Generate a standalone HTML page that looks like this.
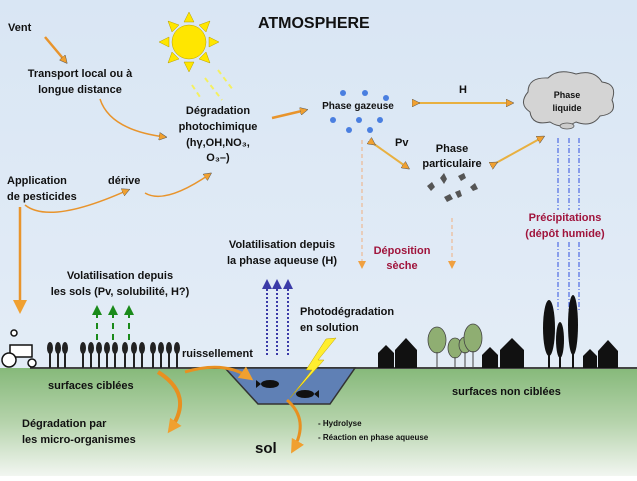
<!DOCTYPE html>
<html><head><meta charset="utf-8"><style>
html,body{margin:0;padding:0;}
body{width:637px;height:476px;overflow:hidden;font-family:"Liberation Sans",sans-serif;}
svg text{font-family:"Liberation Sans",sans-serif;font-weight:bold;fill:#111;}
</style></head><body>
<svg width="637" height="476" viewBox="0 0 637 476" xmlns="http://www.w3.org/2000/svg">
<defs>
<linearGradient id="sky" x1="0" y1="0" x2="0" y2="1"><stop offset="0" stop-color="#d9e6f4"/><stop offset="1" stop-color="#e6eef7"/></linearGradient>
<linearGradient id="gr" x1="0" y1="0" x2="0" y2="1"><stop offset="0" stop-color="#86b97a"/><stop offset="0.5" stop-color="#b5d3ab"/><stop offset="1" stop-color="#f2f6f1"/></linearGradient>
<marker id="ao" markerWidth="8" markerHeight="8" refX="6" refY="4" orient="auto" markerUnits="userSpaceOnUse"><path d="M0,0 L8,4 L0,8 z" fill="#f0a030" stroke="#555" stroke-width="0.5"/></marker>
<marker id="ob" markerWidth="14" markerHeight="14" refX="10" refY="7" orient="auto" markerUnits="userSpaceOnUse"><path d="M0,0 L14,7 L0,14 z" fill="#f0a030"/></marker>
<marker id="ag" markerWidth="10" markerHeight="10" refX="5" refY="5" orient="auto" markerUnits="userSpaceOnUse"><path d="M0,0 L10,5 L0,10 z" fill="#1a8a1a"/></marker>
<marker id="ab" markerWidth="10" markerHeight="10" refX="5" refY="5" orient="auto" markerUnits="userSpaceOnUse"><path d="M0,0 L10,5 L0,10 z" fill="#3b3ba8"/></marker>
<marker id="od" markerWidth="8" markerHeight="8" refX="4" refY="4" orient="auto" markerUnits="userSpaceOnUse"><path d="M0,0 L8,4 L0,8 z" fill="#f0a040"/></marker>
</defs>
<rect width="637" height="476" fill="url(#sky)"/>
<rect y="368" width="637" height="108" fill="url(#gr)"/>
<line x1="30" y1="368" x2="637" y2="368" stroke="#444" stroke-width="2"/>
<!-- pond -->
<path d="M225,368 L355,368 L330,404 L258,404 z" fill="#5f80b5" stroke="#333" stroke-width="1.5"/>
<ellipse cx="270" cy="384" rx="9" ry="4" fill="#111"/><path d="M261,384 l-5,-4 v8z" fill="#111"/>
<ellipse cx="305" cy="394" rx="9" ry="4" fill="#111"/><path d="M314,394 l5,-4 v8z" fill="#111"/>
<!-- sun -->
<g fill="#ffe600" stroke="#b8a000" stroke-width="0.5">
<circle cx="189" cy="42" r="17"/>
<path d="M189,12 l-5,10 h10z M189,72 l-5,-10 h10z M159,42 l10,-5 v10z M219,42 l-10,-5 v10z M168,21 l4,11 7,-7z M210,21 l-4,11 -7,-7z M168,63 l4,-11 7,7z M210,63 l-4,-11 -7,7z"/>
</g>
<g stroke="#f4f060" stroke-width="2" stroke-dasharray="5,4"><line x1="192" y1="85" x2="202" y2="100"/><line x1="205" y1="78" x2="222" y2="100"/><line x1="218" y1="70" x2="233" y2="90"/></g>
<!-- cloud -->
<path d="M530,112 q-12,-8 -2,-20 q0,-15 20,-14 q10,-10 28,-4 q18,-5 26,8 q16,2 10,18 q6,14 -12,16 q-8,12 -24,6 q-14,8 -26,0 q-18,4 -20,-10z" fill="#d4d4d4" stroke="#555" stroke-width="1"/>
<ellipse cx="567" cy="126" rx="7" ry="3" fill="#ccc" stroke="#555" stroke-width="0.8"/>
<text x="258" y="28" font-size="16">ATMOSPHERE</text>
<g font-size="11">
<text x="8" y="31">Vent</text>
<text x="80" y="77" text-anchor="middle">Transport local ou à</text>
<text x="80" y="93" text-anchor="middle">longue distance</text>
<text x="218" y="114" text-anchor="middle">Dégradation</text>
<text x="218" y="130" text-anchor="middle">photochimique</text>
<text x="218" y="146" text-anchor="middle">(hγ,OH,NO₃,</text>
<text x="218" y="161" text-anchor="middle">O₃–)</text>
<text x="7" y="184">Application</text>
<text x="7" y="200">de pesticides</text>
<text x="108" y="184">dérive</text>
<text x="358" y="109" text-anchor="middle" font-size="10">Phase gazeuse</text>
<text x="463" y="93" text-anchor="middle">H</text>
<text x="567" y="98" text-anchor="middle" font-size="9">Phase</text>
<text x="567" y="111" text-anchor="middle" font-size="9">liquide</text>
<text x="395" y="146">Pv</text>
<text x="452" y="152" text-anchor="middle">Phase</text>
<text x="452" y="167" text-anchor="middle">particulaire</text>
<text x="565" y="221" text-anchor="middle" style="fill:#a0143c">Précipitations</text>
<text x="565" y="237" text-anchor="middle" style="fill:#a0143c">(dépôt humide)</text>
<text x="402" y="254" text-anchor="middle" style="fill:#a0143c">Déposition</text>
<text x="402" y="269" text-anchor="middle" style="fill:#a0143c">sèche</text>
<text x="282" y="248" text-anchor="middle">Volatilisation depuis</text>
<text x="282" y="264" text-anchor="middle">la phase aqueuse (H)</text>
<text x="120" y="279" text-anchor="middle">Volatilisation depuis</text>
<text x="120" y="295" text-anchor="middle">les sols (Pv, solubilité, H?)</text>
<text x="300" y="315">Photodégradation</text>
<text x="300" y="331">en solution</text>
<text x="182" y="357">ruissellement</text>
<text x="48" y="389">surfaces ciblées</text>
<text x="452" y="395">surfaces non ciblées</text>
<text x="22" y="427">Dégradation par</text>
<text x="22" y="443">les micro-organismes</text>
<text x="318" y="426" font-size="8">- Hydrolyse</text>
<text x="318" y="440" font-size="8">- Réaction en phase aqueuse</text>
<text x="255" y="453" font-size="15">sol</text>
</g>
<!-- arrows top -->
<g stroke="#e8942c" stroke-width="2.5" fill="none">
<line x1="45" y1="37" x2="66" y2="62" marker-end="url(#ao)"/>
<path d="M100,99 Q110,130 165,137" marker-end="url(#ao)" stroke-width="1.5"/>
<line x1="272" y1="118" x2="306" y2="110" marker-end="url(#ao)"/>
<path d="M25,205 Q50,225 128,190" stroke-width="1.5" marker-end="url(#ao)"/>
<path d="M145,193 Q165,205 210,174" stroke-width="1.5" marker-end="url(#ao)"/>
<line x1="20" y1="207" x2="20" y2="310" marker-end="url(#ob)" stroke-width="2.5"/>
<line x1="418" y1="103" x2="512" y2="103" stroke="#e8b040" stroke-width="2" marker-start="url(#ao)" marker-end="url(#ao)"/>
<line x1="374" y1="144" x2="408" y2="168" stroke="#e8b040" stroke-width="2" marker-start="url(#ao)" marker-end="url(#ao)"/>
<line x1="496" y1="163" x2="543" y2="137" stroke="#e8b040" stroke-width="2" marker-start="url(#ao)" marker-end="url(#ao)"/>
</g>
<!-- gas dots -->
<g fill="#4a7fe0"><circle cx="343" cy="93" r="3"/><circle cx="365" cy="93" r="3"/><circle cx="386" cy="98" r="3"/><circle cx="333" cy="120" r="3"/><circle cx="359" cy="120" r="3"/><circle cx="380" cy="120" r="3"/><circle cx="349" cy="130" r="3"/><circle cx="370" cy="130" r="3"/></g>
<!-- particles -->
<g fill="#555"><path d="M427,186 l5,-4 3,5 -4,4z"/><path d="M440,178 l4,-5 3,6 -3,5z"/><path d="M458,176 l6,-3 2,5 -5,3z"/><path d="M470,187 l5,-4 3,6 -5,2z"/><path d="M444,197 l6,-3 3,5 -6,3z"/><path d="M455,192 l5,-2 2,6 -4,2z"/></g>
<!-- deposition dashed -->
<g stroke="#f0b080" stroke-width="1" stroke-dasharray="4,3"><line x1="362" y1="140" x2="362" y2="265" marker-end="url(#od)"/><line x1="452" y1="218" x2="452" y2="265" marker-end="url(#od)"/></g>
<g stroke="#3050e0" stroke-width="1" stroke-dasharray="5,2,1,2"><line x1="558" y1="138" x2="558" y2="210"/><line x1="569" y1="138" x2="569" y2="210"/><line x1="579" y1="138" x2="579" y2="210"/><line x1="558" y1="242" x2="558" y2="312"/><line x1="569" y1="242" x2="569" y2="312"/><line x1="579" y1="242" x2="579" y2="312"/></g>
<!-- volatilisation arrows -->
<g stroke="#1a8a1a" stroke-width="2" stroke-dasharray="6,5"><line x1="97" y1="340" x2="97" y2="310" marker-end="url(#ag)"/><line x1="113" y1="340" x2="113" y2="310" marker-end="url(#ag)"/><line x1="129" y1="340" x2="129" y2="310" marker-end="url(#ag)"/></g>
<g stroke="#3b3ba8" stroke-width="2" stroke-dasharray="2,2"><line x1="267" y1="355" x2="267" y2="284" marker-end="url(#ab)"/><line x1="277" y1="355" x2="277" y2="284" marker-end="url(#ab)"/><line x1="288" y1="355" x2="288" y2="284" marker-end="url(#ab)"/></g>
<!-- lightning -->
<path d="M336,338 L318,360 L324,360 L290,398 L312,370 L306,370 L326,339z" fill="#ffee30" stroke="#c0a000" stroke-width="0.5"/>
<!-- crops -->
<g fill="#222">
<path d="M49,345h2v23h-2z M57,345h2v23h-2z M64,345h2v23h-2z M82,345h2v23h-2z M90,345h2v23h-2z M98,345h2v23h-2z M106,345h2v23h-2z M114,345h2v23h-2z M124,345h2v23h-2z M133,345h2v23h-2z M141,345h2v23h-2z M152,345h2v23h-2z M160,345h2v23h-2z M168,345h2v23h-2z M176,345h2v23h-2z"/>
<g><ellipse cx="50" cy="348" rx="3" ry="6"/><ellipse cx="58" cy="348" rx="3" ry="6"/><ellipse cx="65" cy="348" rx="3" ry="6"/><ellipse cx="83" cy="348" rx="3" ry="6"/><ellipse cx="91" cy="348" rx="3" ry="6"/><ellipse cx="99" cy="348" rx="3" ry="6"/><ellipse cx="107" cy="348" rx="3" ry="6"/><ellipse cx="115" cy="348" rx="3" ry="6"/><ellipse cx="125" cy="348" rx="3" ry="6"/><ellipse cx="134" cy="348" rx="3" ry="6"/><ellipse cx="142" cy="348" rx="3" ry="6"/><ellipse cx="153" cy="348" rx="3" ry="6"/><ellipse cx="161" cy="348" rx="3" ry="6"/><ellipse cx="169" cy="348" rx="3" ry="6"/><ellipse cx="177" cy="348" rx="3" ry="6"/></g>
</g>
<!-- tractor -->
<g stroke="#111" stroke-width="1.5" fill="#fff"><rect x="10" y="345" width="22" height="12"/><circle cx="9" cy="360" r="7"/><circle cx="32" cy="363" r="4"/><circle cx="14" cy="333" r="3"/></g>
<!-- houses -->
<g fill="#111">
<path d="M378,368v-15l8,-8 8,8v15z"/><path d="M395,368v-18l11,-12 11,12v18z"/>
<path d="M482,368v-13l8,-8 8,8v13z"/><path d="M500,368v-18l12,-12 12,12v18z"/>
<path d="M583,368v-12l7,-7 7,7v12z"/><path d="M598,368v-17l10,-11 10,11v17z"/>
<ellipse cx="549" cy="328" rx="6" ry="28"/><ellipse cx="560" cy="340" rx="4" ry="18"/><ellipse cx="573" cy="325" rx="5" ry="30"/>
<rect x="548" y="350" width="2" height="18"/><rect x="559" y="355" width="2" height="13"/><rect x="572" y="352" width="2" height="16"/>
</g>
<g fill="#8fae72" stroke="#444" stroke-width="0.8"><ellipse cx="437" cy="340" rx="9" ry="13"/><ellipse cx="455" cy="348" rx="7" ry="10"/><ellipse cx="465" cy="345" rx="6" ry="8"/><ellipse cx="473" cy="338" rx="9" ry="14"/></g>
<g stroke="#444" stroke-width="1"><line x1="437" y1="352" x2="437" y2="368"/><line x1="455" y1="357" x2="455" y2="368"/><line x1="465" y1="352" x2="465" y2="368"/><line x1="473" y1="351" x2="473" y2="368"/></g>
<!-- lower orange arrows -->
<g stroke="#e89020" stroke-width="4" fill="none">
<path d="M158,372 Q195,395 170,430" marker-end="url(#ob)"/>
<path d="M185,372 Q225,360 250,378" stroke-width="3" marker-end="url(#ob)"/>
<path d="M287,400 Q310,420 293,450" stroke-width="3" marker-end="url(#ob)"/>
</g>
</svg>
</body></html>
